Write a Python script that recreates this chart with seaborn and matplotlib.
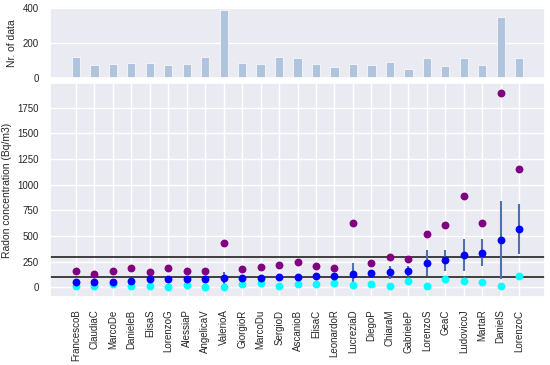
import matplotlib
matplotlib.use("Agg")
import matplotlib.pyplot as plt
import seaborn as sns
import numpy as np
import pandas as pd

names = ["FrancescoB", "ClaudiaC", "MarcoDe", "DanieleB", "ElisaS", "LorenzoG",
         "AlessiaP", "AngelicaV", "ValerioA", "GiorgioR", "MarcoDu", "SergioD",
         "AscanioB", "ElisaC", "LeonardoR", "LucreziaD", "DiegoP", "ChiaraM",
         "GabrieleP", "LorenzoS", "GeaC", "LudovicoJ", "MartaR", "DanielS", "LorenzoC"]
n_data = [122, 74, 80, 88, 88, 74, 80, 122, 389, 88, 80, 120, 116, 80, 63, 80,
          74, 93, 55, 116, 70, 114, 74, 350, 116]
max_vals = [160, 130, 160, 186, 147, 192, 160, 160, 429, 182, 198, 215, 247, 205,
            189, 630, 234, 293, 276, 519, 604, 889, 623, 1898, 1149]
mean_vals = [50, 56, 56, 62, 78, 78, 82, 82, 89, 95, 95, 101, 104, 111, 114, 127,
             137, 147, 160, 240, 263, 315, 338, 461, 568]
std_vals = [15, 15, 15, 20, 25, 35, 25, 25, 60, 25, 25, 30, 30, 30, 30, 106, 30,
            62, 48, 125, 100, 160, 134, 380, 245]
min_vals = [17, 17, 30, 14, 17, 0, 23, 7, 0, 30, 43, 14, 33, 33, 46, 23, 36, 17,
            62, 17, 82, 65, 56, 14, 114]
ref_levels = [100, 300]

sns.set_theme(style="darkgrid")
plt.rcParams["font.family"] = ["Liberation Sans", "DejaVu Sans"]

df = pd.DataFrame({"name": names, "n": n_data, "max": max_vals, "mean": mean_vals,
                   "std": std_vals, "min": min_vals})
x = np.arange(len(names))

fig = plt.figure(figsize=(5.5, 3.65), dpi=100)
ax_top = fig.add_axes([0.091, 0.785, 0.9, 0.196])
ax = fig.add_axes([0.091, 0.186, 0.9, 0.587])

sns.barplot(data=df, x="name", y="n", ax=ax_top, color="#b0c4de", saturation=1,
            width=0.45, edgecolor="white", linewidth=0.5)
ax_top.set_xlim(-1.4, 25.4)
ax_top.set_ylim(0, 408)
ax_top.set_yticks([0, 200, 400])
ax_top.set_xticklabels([])
ax_top.set_xlabel("")
ax_top.set_ylabel("Nr. of data", fontsize=7.5)
ax_top.tick_params(axis="y", labelsize=7, pad=2)

for lv in ref_levels:
    ax.axhline(lv, color="#222222", lw=1.2, zorder=1.5)
ax.errorbar(x, df["mean"], yerr=df["std"], fmt="none", ecolor="#4c72b0", elinewidth=1.5, zorder=2)
sns.scatterplot(x=x, y=df["max"], ax=ax, color="purple", s=32, linewidth=0, zorder=3)
sns.scatterplot(x=x, y=df["min"], ax=ax, color="cyan", s=32, linewidth=0, zorder=3)
sns.scatterplot(x=x, y=df["mean"], ax=ax, color="blue", s=32, linewidth=0, zorder=4)
ax.set_xlim(-1.4, 25.4)
ax.set_ylim(-95, 1993)
ax.set_yticks([0, 250, 500, 750, 1000, 1250, 1500, 1750])
ax.set_xticks(x)
ax.set_xticklabels(names, rotation=90, fontsize=7)
ax.tick_params(axis="y", labelsize=7, pad=2)
ax.tick_params(axis="x", pad=3)
ax.set_ylabel("Radon concentration (Bq/m3)", fontsize=7.5)

fig.savefig("out.png", dpi=100)
